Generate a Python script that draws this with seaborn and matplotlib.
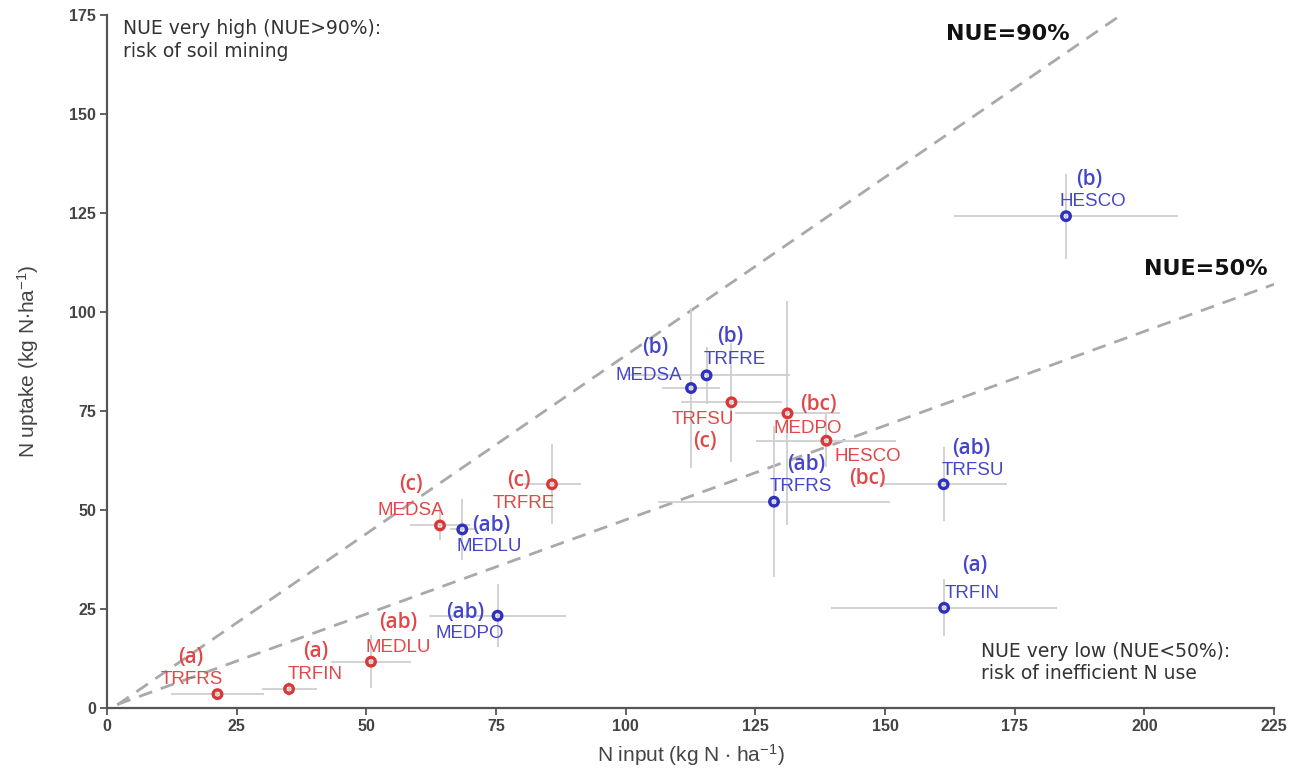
import matplotlib
matplotlib.use("Agg")
import matplotlib.pyplot as plt
import matplotlib.font_manager as fm
import seaborn as sns
import pandas as pd

# ---------------- data ----------------
names_red = ["TRFRS", "TRFIN", "MEDLU", "MEDSA", "TRFRE", "TRFSU", "MEDPO", "HESCO"]
letters_red = ["(a)", "(a)", "(ab)", "(c)", "(c)", "(c)", "(bc)", "(bc)"]
x_red = [21.3, 35.1, 50.9, 64.2, 85.8, 120.4, 131.2, 138.7]
y_red = [3.5, 4.8, 11.7, 46.1, 56.5, 77.2, 74.4, 67.5]
xerr_red = [9.0, 5.3, 7.7, 5.8, 5.5, 9.8, 10.2, 13.5]
yerr_red = [1.0, 1.7, 6.7, 3.6, 10.1, 15.0, 28.3, 6.7]

names_blue = ["MEDPO", "MEDLU", "MEDSA", "TRFRE", "TRFRS", "TRFSU", "TRFIN", "HESCO"]
letters_blue = ["(ab)", "(ab)", "(b)", "(b)", "(ab)", "(ab)", "(a)", "(b)"]
x_blue = [75.3, 68.5, 112.6, 115.6, 128.6, 161.3, 161.4, 184.9]
y_blue = [23.3, 45.1, 80.8, 84.0, 52.1, 56.5, 25.3, 124.2]
xerr_blue = [13.2, 2.4, 5.6, 16.0, 22.3, 12.3, 21.8, 21.6]
yerr_blue = [8.0, 7.6, 20.2, 7.2, 19.0, 9.3, 7.2, 10.7]

# NUE reference lines (end points)
nue90_x = [2.0, 195.5]
nue90_y = [0.8, 175.0]
nue50_x = [2.0, 225.0]
nue50_y = [0.9, 107.0]

x_ticks = [0, 25, 50, 75, 100, 125, 150, 175, 200, 225]
y_ticks = [0, 25, 50, 75, 100, 125, 150, 175]

# ---------------- label offsets (pixels) ----------------
name_off_red = [(-26, 15), (26, 14), (27, 14), (-29, 15), (-28, -19), (-29, -17), (20, -15), (41, -16)]
let_off_red = [(-27, 37), (27, 37), (27, 39), (-29, 41), (-33, 4), (-27, -39), (31, 9), (41, -38)]
name_off_blue = [(-28, -18), (27, -17), (-42, 13), (28, 16), (27, 15), (29, 14), (28, 14), (27, 15)]
let_off_blue = [(-32, 3), (29, 4), (-36, 41), (24, 39), (32, 37), (28, 36), (31, 42), (23, 37)]

RED = "#d93838"
RED_TXT = "#e24848"
BLUE = "#2f2fc0"
BLUE_TXT = "#4646ca"
GREY_TXT = "#333333"

sns.set_theme(style="white")
avail = {f.name for f in fm.fontManager.ttflist}
NARROW = "Liberation Sans Narrow" if "Liberation Sans Narrow" in avail else "Liberation Sans"
LETFONT = "Open Sans" if "Open Sans" in avail else "DejaVu Sans"
plt.rcParams["font.family"] = ["DejaVu Sans"]
plt.rcParams["mathtext.default"] = "regular"

df = pd.DataFrame({
    "x": x_red + x_blue,
    "y": y_red + y_blue,
    "grp": ["red"] * len(x_red) + ["blue"] * len(x_blue),
})

fig = plt.figure(figsize=(12.95, 7.74), dpi=100)
ax = fig.add_axes([107 / 1295, 1 - 708 / 774, (1274 - 107) / 1295, (708 - 15) / 774])

# reference lines
ax.plot(nue90_x, nue90_y, color="#a9a9a9", lw=2.0, dashes=(5, 3.3), zorder=1)
ax.plot(nue50_x, nue50_y, color="#a9a9a9", lw=2.0, dashes=(5, 3.3), zorder=1)

# error bars
ax.errorbar(x_red, y_red, xerr=xerr_red, yerr=yerr_red, fmt="none",
            ecolor="#cfcfcf", elinewidth=1.3, capsize=0, zorder=2)
ax.errorbar(x_blue, y_blue, xerr=xerr_blue, yerr=yerr_blue, fmt="none",
            ecolor="#cfcfcf", elinewidth=1.3, capsize=0, zorder=2)

# points
sns.scatterplot(data=df, x="x", y="y", hue="grp", palette={"red": RED, "blue": BLUE},
                s=38, linewidth=2.4, legend=False, ax=ax, zorder=3)
coll = ax.collections[-1]
fcs = coll.get_facecolors()
coll.set_edgecolors(fcs)
coll.set_facecolors("none")

# labels
def put_labels(xs, ys, names, lets, noff, loff, col):
    for xv, yv, n, l, no, lo in zip(xs, ys, names, lets, noff, loff):
        ax.annotate(n, (xv, yv), xytext=no, textcoords="offset pixels",
                    ha="center", va="center", color=col, fontsize=13.5,
                    family="Liberation Sans", zorder=4)
        ax.annotate(l, (xv, yv), xytext=lo, textcoords="offset pixels",
                    ha="center", va="center", color=col, fontsize=15,
                    family=LETFONT, fontweight="semibold", zorder=4)

put_labels(x_red, y_red, names_red, letters_red, name_off_red, let_off_red, RED_TXT)
put_labels(x_blue, y_blue, names_blue, letters_blue, name_off_blue, let_off_blue, BLUE_TXT)

# region texts
ax.text(3.1, 174.0, "NUE very high (NUE>90%):\nrisk of soil mining", ha="left", va="top",
        fontsize=13.5, color=GREY_TXT, linespacing=1.25)
ax.text(168.6, 11.5, "NUE very low (NUE<50%):\nrisk of inefficient N use", ha="left", va="center",
        fontsize=13.5, color=GREY_TXT, linespacing=1.25)
ax.text(173.6, 170.2, "NUE=90%", ha="center", va="center", fontsize=16,
        fontweight="bold", color="#111111")
ax.text(211.8, 110.8, "NUE=50%", ha="center", va="center", fontsize=16,
        fontweight="bold", color="#111111")

# axes styling
ax.set_xlim(0, 225)
ax.set_ylim(0, 175)
ax.set_xticks(x_ticks)
ax.set_yticks(y_ticks)
for s in ["top", "right"]:
    ax.spines[s].set_visible(False)
for s in ["left", "bottom"]:
    ax.spines[s].set_color("#555555")
    ax.spines[s].set_linewidth(1.6)
ax.tick_params(axis="both", direction="out", length=5, width=1.3, color="#555555",
               labelcolor="#444444", pad=3, bottom=True, left=True)
for lab in ax.get_xticklabels() + ax.get_yticklabels():
    lab.set_family(NARROW)
    lab.set_fontweight("bold")
    lab.set_fontsize(11.5)
ax.set_xlabel(r"N input (kg N $\cdot$ ha$^{-1}$)", family=NARROW, fontsize=15,
              color="#444444", labelpad=6)
ax.set_ylabel(r"N uptake (kg N$\cdot$ha$^{-1}$)", family=NARROW, fontsize=15,
              color="#444444", labelpad=20)
ax.grid(False)

fig.savefig("out.png", dpi=100)
